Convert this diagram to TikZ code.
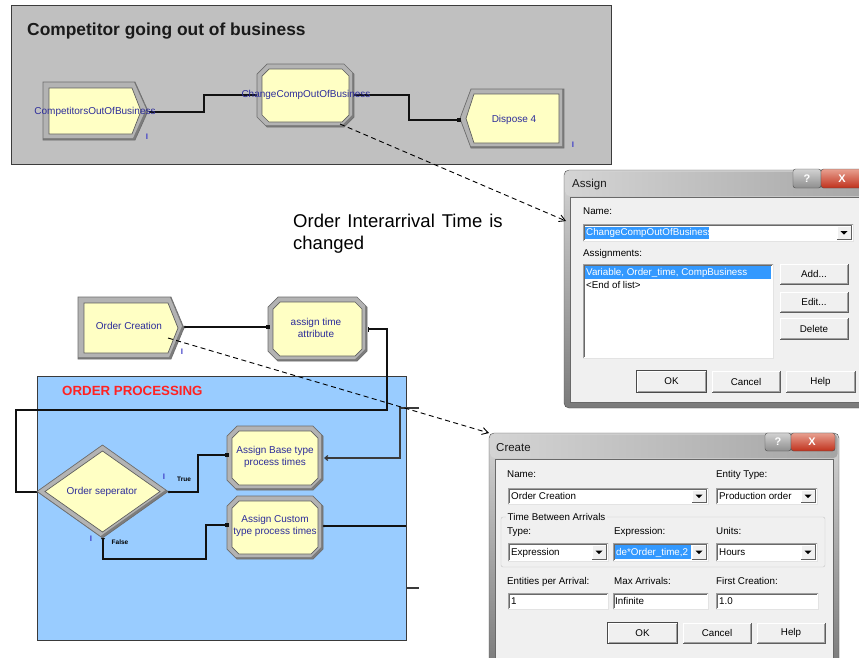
\documentclass[tikz,border=0pt]{standalone}
\usepackage{fontspec}
\setmainfont{Liberation Sans}
\usetikzlibrary{arrows.meta}

\definecolor{panelgray}{HTML}{C0C0C0}
\definecolor{paneledge}{HTML}{3C3C3C}
\definecolor{titleblack}{HTML}{1A1A1A}
\definecolor{modyellow}{HTML}{FFFFC4}
\definecolor{framelight}{HTML}{B3B3B3}
\definecolor{framedark}{HTML}{7D7D7D}
\definecolor{frameedge}{HTML}{6E6E6E}
\definecolor{faceedge}{HTML}{5E5E5E}
\definecolor{modtext}{HTML}{2C2C9A}
\definecolor{markblue}{HTML}{4040C8}
\definecolor{linkblack}{HTML}{111111}
\definecolor{procblue}{HTML}{99CCFF}
\definecolor{procedge}{HTML}{3A3A3A}
\definecolor{procred}{HTML}{FF2222}
\definecolor{dlgbody}{HTML}{F0F0F0}
\definecolor{dlgedge}{HTML}{4A4A4A}
\definecolor{dlgtop}{HTML}{D4D4D4}
\definecolor{dlgbottom}{HTML}{7A7A7A}
\definecolor{selblue}{HTML}{3399FF}
\definecolor{sunkA}{HTML}{A0A0A0}
\definecolor{sunkB}{HTML}{696969}
\definecolor{sunkC}{HTML}{E3E3E3}
\definecolor{btndark}{HTML}{5F5F5F}
\definecolor{btnmid}{HTML}{A0A0A0}
\definecolor{groupline}{HTML}{C5C5C5}
\definecolor{closeT}{HTML}{E8A090}
\definecolor{closeB}{HTML}{C0311C}
\definecolor{helpT}{HTML}{D2D2D2}
\definecolor{helpB}{HTML}{8E8E8E}

\tikzset{
  modtxt/.style={font=\fontsize{10}{11.5}\selectfont, text=modtext, align=center, inner sep=0pt},
  imark/.style={font=\fontsize{8}{8}\selectfont\bfseries, text=markblue, inner sep=0pt},
  branchtxt/.style={font=\fontsize{6.5}{7}\selectfont\bfseries, text=black, inner sep=0pt},
  link/.style={line width=1.1pt, draw=linkblack},
  sidelink/.style={line width=1.2pt, draw=procedge},
  callout/.style={line width=0.9pt, dash pattern=on 5pt off 3.5pt, -{Straight Barb[length=6pt,width=7pt]}},
  dlgtxt/.style={font=\fontsize{9.8}{11}\selectfont, text=black, inner sep=0pt, anchor=base west},
  seltxt/.style={dlgtxt, text=white},
  btntxt/.style={font=\fontsize{9.8}{11}\selectfont, inner sep=0pt},
  captxt/.style={font=\fontsize{11.5}{13}\selectfont, text=titleblack, inner sep=0pt, anchor=base west},
  capbtn/.style={font=\fontsize{11}{12}\selectfont\bfseries, text=white, inner sep=0pt},
}

% module outlines
\newcommand\OctPath[5]{({#1+#5},#2) -- ({#3-#5},#2) -- (#3,{#2+#5}) -- (#3,{#4-#5}) -- ({#3-#5},#4) -- ({#1+#5},#4) -- (#1,{#4-#5}) -- (#1,{#2+#5}) -- cycle}
\newcommand\ChevPath[5]{(#1,#2) -- (#3,#2) -- (#4,{(#2+#5)/2}) -- (#3,#5) -- (#1,#5) -- cycle}
\newcommand\DispPath[5]{(#1,{(#3+#5)/2}) -- (#2,#3) -- (#4,#3) -- (#4,#5) -- (#2,#5) -- cycle}
\newcommand\DiaPath[4]{(#1,{(#2+#4)/2}) -- ({(#1+#3)/2},#2) -- (#3,{(#2+#4)/2}) -- ({(#1+#3)/2},#4) -- cycle}

% bevelled module: #1 outer path, #2 face path
\newcommand\ArenaFrame[2]{%
  \begin{scope}
    \clip #1;
    \fill[framedark] #1;
    \fill[framelight, shift={(-2,-2)}] #1;
  \end{scope}
  \draw[frameedge, line width=0.7pt] #1;
  \filldraw[fill=modyellow, draw=faceedge, line width=0.7pt] #2;
}

% dialog controls
\newcommand\SunkenBox[4]{%
  \fill[white] (#1,#2) rectangle (#3,#4);
  \draw[sunkA] (#1,#4) -- (#1,#2) -- (#3,#2);
  \draw[sunkB] ({#1+1},{#4-1}) -- ({#1+1},{#2+1}) -- ({#3-1},{#2+1});
  \draw[sunkC] (#1,#4) -- (#3,#4) -- (#3,#2);
}
\newcommand\DropBtn[4]{%
  \fill[dlgbody] (#1,#2) rectangle (#3,#4);
  \draw[white] (#1,#4) -- (#1,#2) -- (#3,#2);
  \draw[btndark] (#1,#4) -- (#3,#4) -- (#3,#2);
  \fill[black] ({(#1+#3)/2-3.5},{(#2+#4)/2-1.5}) -- ({(#1+#3)/2+3.5},{(#2+#4)/2-1.5}) -- ({(#1+#3)/2},{(#2+#4)/2+2.2}) -- cycle;
}
\newcommand\RaisedBtn[6]{%
  \fill[dlgbody] (#2,#3) rectangle (#4,#5);
  \draw[white] (#2,#5) -- (#2,#3) -- (#4,#3);
  \draw[btnmid] ({#2+1},{#5-1}) -- ({#4-1},{#5-1}) -- ({#4-1},{#3+1});
  \draw[btndark] (#2,#5) -- (#4,#5) -- (#4,#3);
  \node[btntxt] (#1) at ({(#2+#4)/2},{(#3+#5)/2}) {#6};
}

\begin{document}
\begin{tikzpicture}[x=1pt,y=-1pt]
\useasboundingbox (0,0) rectangle (859,657);
\clip (0,0) rectangle (859,657);
\fill[white] (0,0) rectangle (859,657);

% ---------- competitor sub-model ----------
\filldraw[fill=panelgray, draw=paneledge, line width=1pt] (11,5) rectangle (611,164);
\node[font=\fontsize{17.4}{20}\selectfont\bfseries, text=titleblack, anchor=base west, inner sep=0pt] (compTitle) at (27,35) {Competitor going out of business};

\coordinate (cobOut) at (149,112);
\coordinate (chgIn) at (257,95);
\coordinate (chgOut) at (354,95);
\coordinate (dispIn) at (459,120);
\draw[link] (cobOut) -- ++(55,0) |- (chgIn);
\draw[link] (chgOut) -- ++(55,0) |- (dispIn);

\ArenaFrame{\ChevPath{43}{82}{135}{148}{140}}{\ChevPath{49}{88}{132}{141}{134}}
\ArenaFrame{\OctPath{257}{64}{354}{127}{10}}{\OctPath{262}{69}{349}{122}{7}}
\ArenaFrame{\DispPath{460}{471}{89}{564}{148}}{\DispPath{466}{474}{94}{559}{143}}
\fill[linkblack] (dispIn) ++(-1.8,-1.8) rectangle ++(3.6,3.6);

\node[modtxt] (cobText) at (95,112) {CompetitorsOutOfBusiness};
\node[modtxt] (chgText) at (306,95) {ChangeCompOutOfBusiness};
\node[modtxt] (dispText) at (514,120) {Dispose 4};
\node[imark] (cobMark) at (147,137) {I};
\node[imark] (dispMark) at (573,145) {I};

% ---------- order processing ----------
\filldraw[fill=procblue, draw=procedge, line width=1pt] (37,376) rectangle (406,640);
\node[font=\fontsize{13.3}{15}\selectfont\bfseries, text=procred, anchor=base west, inner sep=0pt] (procTitle) at (62,395) {ORDER PROCESSING};

\coordinate (ocOut) at (185,327);
\coordinate (atIn) at (268,327);
\coordinate (atOut) at (368,329);
\coordinate (sepIn) at (37,492);
\coordinate (sepR) at (169,492);
\coordinate (sepB) at (103,538);
\coordinate (abIn) at (227,455);
\coordinate (acIn) at (227,525);
\coordinate (abR) at (324,458);
\coordinate (acR) at (324,526);
\coordinate (extA) at (419,408);
\coordinate (acExit) at (406,526);
\coordinate (extB) at (406,588);

\draw[link] (ocOut) -- (atIn);
\draw[link] (atOut) -- ++(19,0) |- ++(-371,81) |- (sepIn);
\draw[link] (sepR) -- ++(29,0) |- (abIn);
\draw[link] (sepB) -- ++(0,21) -| ++(103,-34) -- (acIn);
\draw[sidelink, -{Straight Barb[length=3pt,width=5pt]}] (extA) -- ++(-19,0) |- (abR);
\draw[link] (acR) -- (acExit);
\draw[sidelink] (extB) -- ++(13,0);

\ArenaFrame{\ChevPath{78}{297}{171}{184}{359}}{\ChevPath{84}{303}{168}{178}{353}}
\ArenaFrame{\OctPath{268}{297}{367}{361}{10}}{\OctPath{273}{302}{362}{356}{7}}
\ArenaFrame{\OctPath{227}{426}{323}{490}{10}}{\OctPath{232}{431}{318}{485}{7}}
\ArenaFrame{\OctPath{227}{496}{323}{559}{10}}{\OctPath{232}{501}{318}{554}{7}}
\ArenaFrame{\DiaPath{37}{445}{168}{538}}{\DiaPath{45}{451}{160}{532}}

\foreach \p in {atIn,abIn,acIn}{\fill[linkblack] (\p) ++(-1.8,-1.8) rectangle ++(3.6,3.6);}
\foreach \p in {ocOut,sepR,acR}{\fill[linkblack] (\p) circle (1.4);}
\fill[linkblack] (atOut) ++(0,-2.5) rectangle ++(1.2,5);
\fill[linkblack] (sepB) ++(-2,0) -- ++(4,0) -- ++(-2,3) -- cycle;

\node[modtxt] (ocText) at (129,326) {Order Creation};
\node[modtxt] (atText) at (316,328) {assign time\\attribute};
\node[modtxt] (abText) at (275,457) {Assign Base type\\process times};
\node[modtxt] (acText) at (275,526) {Assign Custom\\type process times};
\node[modtxt] (sepText) at (102,492) {Order seperator};
\node[imark] (ocMark) at (182,352) {I};
\node[imark] (trueMark) at (164,477) {I};
\node[imark] (falseMark) at (91,539) {I};
\node[branchtxt] (trueText) at (184,479) {True};
\node[branchtxt] (falseText) at (120,542) {False};

\node[font=\fontsize{18.5}{21.7}\selectfont, text=black, anchor=base west, align=left, inner sep=0pt] (noteText) at (293,249)
  {\spaceskip=7pt plus 1pt Order Interarrival Time is\\changed};

% ---------- Assign dialog ----------
\shadedraw[top color=dlgtop, bottom color=dlgbottom, draw=dlgedge, rounded corners=5pt] (564,170) rectangle (880,408);
\shade[left color=dlgtop, right color=helpB!80!white, rounded corners=4pt] (565.5,171.5) rectangle (878,196);
\filldraw[fill=dlgbody, draw=sunkB] (570,197) rectangle (878,402);
\node[captxt] (asgCaption) at (572,187.5) {Assign};
\shadedraw[top color=helpT, bottom color=helpB, draw=dlgedge, rounded corners=2.5pt] (793,169) rectangle (821,188);
\shadedraw[top color=closeT, bottom color=closeB, draw=dlgedge, rounded corners=2.5pt] (821,169) rectangle (875,188);
\node[capbtn] (asgHelpMark) at (807,178.5) {?};
\node[capbtn] (asgCloseMark) at (842,178.5) {X};

\node[dlgtxt] (asgNameLbl) at (583,214.5) {Name:};
\SunkenBox{583}{224}{853}{241}
\fill[selblue] (585,226.5) rectangle (709,238.5);
\node[seltxt] (asgNameVal) at (586,235.8) {ChangeCompOutOfBusiness};
\DropBtn{837}{226}{851}{239}
\node[dlgtxt] (asgListLbl) at (583,256.5) {Assignments:};
\SunkenBox{583}{264}{773}{358}
\fill[selblue] (585,266) rectangle (771,279);
\node[seltxt] (asgRow1) at (586,275.8) {Variable, Order\_time, CompBusiness};
\node[dlgtxt] (asgRow2) at (586,288) {<End of list>};
\RaisedBtn{asgAdd}{780}{264}{848}{284}{Add...}
\RaisedBtn{asgEdit}{780}{292}{848}{312}{Edit...}
\RaisedBtn{asgDel}{780}{318}{848}{339}{Delete}
\RaisedBtn{asgOK}{637}{371}{706}{392}{OK}
\draw[dlgedge] (636.5,370.5) rectangle (706.5,392.5);
\RaisedBtn{asgCancel}{712}{371}{780}{392}{Cancel}
\RaisedBtn{asgHelp}{786}{371}{855}{392}{Help}

% ---------- Create dialog ----------
\shadedraw[top color=dlgtop, bottom color=dlgbottom, draw=dlgedge, rounded corners=5pt] (489,433) rectangle (839,670);
\shade[left color=dlgtop, right color=helpB!80!white, rounded corners=4pt] (490.5,434.5) rectangle (837.5,458);
\filldraw[fill=dlgbody, draw=sunkB] (495,459) rectangle (833,670);
\node[captxt] (crtCaption) at (496,451) {Create};
\shadedraw[top color=helpT, bottom color=helpB, draw=dlgedge, rounded corners=2.5pt] (765,433) rectangle (791,451);
\shadedraw[top color=closeT, bottom color=closeB, draw=dlgedge, rounded corners=2.5pt] (791,433) rectangle (835,451);
\node[capbtn] (crtHelpMark) at (778,442) {?};
\node[capbtn] (crtCloseMark) at (812,442) {X};

\node[dlgtxt] (crtNameLbl) at (507,477.5) {Name:};
\node[dlgtxt] (crtEntLbl) at (716,477.5) {Entity Type:};
\SunkenBox{508}{488}{708}{504}
\DropBtn{692}{490}{706}{502}
\node[dlgtxt] (crtNameVal) at (511,499.5) {Order Creation};
\SunkenBox{716}{488}{817}{504}
\DropBtn{801}{490}{815}{502}
\node[dlgtxt] (crtEntVal) at (719,499.5) {Production order};

\draw[groupline, rounded corners=2pt] (501,517) rectangle (825,567);
\node[dlgtxt, fill=dlgbody, inner xsep=1.5pt, inner ysep=0.5pt] (crtGroup) at (506,520.5) {Time Between Arrivals};
\node[dlgtxt] (crtTypeLbl) at (507,534.5) {Type:};
\node[dlgtxt] (crtExprLbl) at (614,534.5) {Expression:};
\node[dlgtxt] (crtUnitLbl) at (716,534.5) {Units:};
\SunkenBox{508}{543}{608}{561}
\DropBtn{592}{545}{606}{559}
\node[dlgtxt] (crtTypeVal) at (511,555.5) {Expression};
\SunkenBox{613}{543}{708}{561}
\fill[selblue] (615,545) rectangle (691,559);
\begin{scope}
  \clip (615,545) rectangle (691,559);
  \node[seltxt] (crtExprVal) at (616,555.5) {de*Order\_time,2 [};
\end{scope}
\DropBtn{692}{545}{706}{559}
\SunkenBox{716}{543}{817}{561}
\DropBtn{801}{545}{815}{559}
\node[dlgtxt] (crtUnitVal) at (719,555.5) {Hours};

\node[dlgtxt] (crtEpaLbl) at (507,584.5) {Entities per Arrival:};
\node[dlgtxt] (crtMaxLbl) at (614,584.5) {Max Arrivals:};
\node[dlgtxt] (crtFirstLbl) at (716,584.5) {First Creation:};
\SunkenBox{508}{593}{608}{609}
\node[dlgtxt] (crtEpaVal) at (511,604.5) {1};
\SunkenBox{613}{593}{708}{609}
\node[dlgtxt] (crtMaxVal) at (615,604.5) {Infinite};
\SunkenBox{716}{593}{818}{609}
\node[dlgtxt] (crtFirstVal) at (719,604.5) {1.0};
\RaisedBtn{crtOK}{608}{623}{677}{643}{OK}
\draw[dlgedge] (607.5,622.5) rectangle (677.5,643.5);
\RaisedBtn{crtCancel}{683}{623}{751}{643}{Cancel}
\RaisedBtn{crtHelp}{757}{623}{825}{643}{Help}

% ---------- call-outs to the dialogs ----------
\coordinate (chgTail) at (340,124);
\coordinate (asgTip) at (566,221);
\coordinate (ocTail) at (168,338);
\coordinate (crtTip) at (489,433);
\draw[callout] (chgTail) -- (asgTip);
\draw[callout] (ocTail) -- (crtTip);
\end{tikzpicture}
\end{document}
